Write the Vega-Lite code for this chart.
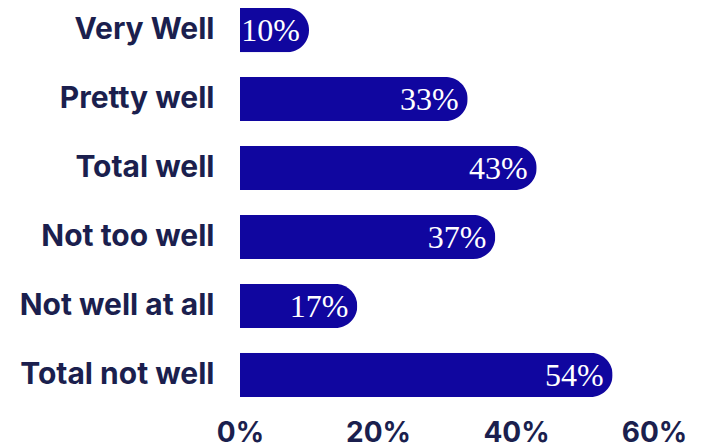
{
  "$schema": "https://vega.github.io/schema/vega-lite/v6.json",
  "width": 414,
  "height": 405,
  "autosize": {"type": "none"},
  "padding": {"left": 240, "top": 0, "right": 53, "bottom": 42},
  "background": "white",
  "data": {"values": [
    {"category": "Very Well", "value": 0.10, "label": "10%"},
    {"category": "Pretty well", "value": 0.33, "label": "33%"},
    {"category": "Total well", "value": 0.43, "label": "43%"},
    {"category": "Not too well", "value": 0.37, "label": "37%"},
    {"category": "Not well at all", "value": 0.17, "label": "17%"},
    {"category": "Total not well", "value": 0.54, "label": "54%"}
  ]},
  "encoding": {
    "y": {"field": "category", "type": "nominal", "sort": null,
      "scale": {"paddingInner": 0.36, "paddingOuter": 0.116},
      "axis": {"title": null, "domain": false, "ticks": false, "labelPadding": 26,
        "labelFont": "Inter", "labelFontWeight": "bold", "labelFontSize": 30, "labelColor": "#1b1f4e", "labelLimit": 300}},
    "x": {"field": "value", "type": "quantitative",
      "scale": {"domain": [0, 0.6], "nice": false},
      "axis": {"title": null, "format": ".0%", "values": [0, 0.2, 0.4, 0.6], "grid": false, "domain": false, "ticks": false,
        "labelPadding": 14, "labelFont": "Inter", "labelFontWeight": "bold", "labelFontSize": 28, "labelColor": "#1b1f4e",
        "labelFlush": false, "labelOverlap": false}}
  },
  "layer": [
    {"mark": {"type": "bar", "color": "#10069f", "cornerRadiusEnd": 22}},
    {"mark": {"type": "text", "align": "right", "baseline": "middle", "dx": -9, "dy": 1, "font": "Liberation Serif", "fontSize": 32, "color": "white"},
     "encoding": {"text": {"field": "label"}}}
  ],
  "config": {"view": {"stroke": null}}
}
